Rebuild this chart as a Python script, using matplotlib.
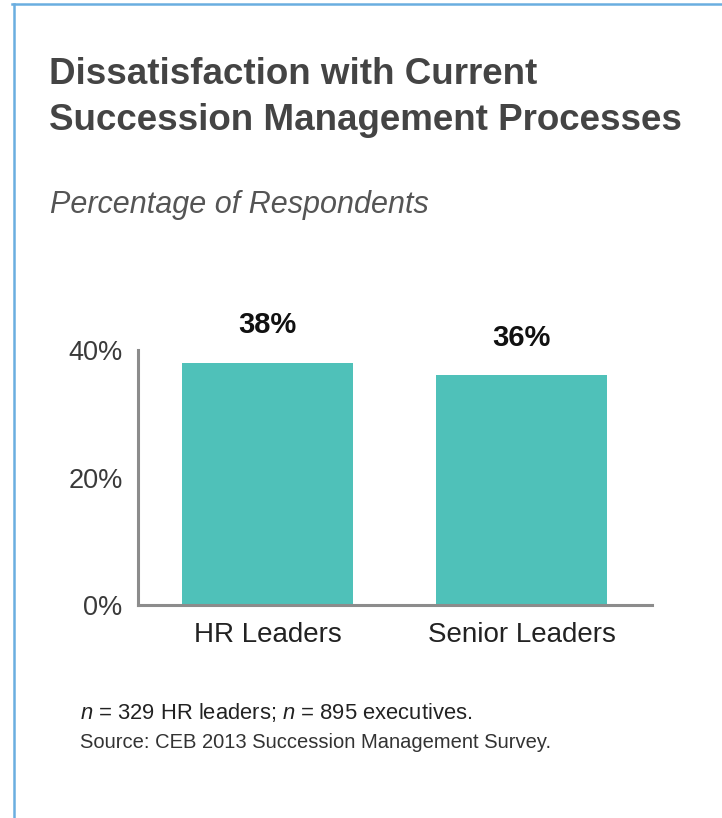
import matplotlib
matplotlib.use("Agg")
import matplotlib.pyplot as plt
from matplotlib.lines import Line2D

plt.rcParams["font.family"] = ["Liberation Sans", "DejaVu Sans"]
plt.rcParams["mathtext.fontset"] = "custom"
plt.rcParams["mathtext.rm"] = "Liberation Sans"
plt.rcParams["mathtext.it"] = "Liberation Sans:italic"

groups = ["HR Leaders", "Senior Leaders"]
dissatisfied = [38, 36]
y_ticks = [0, 20, 40]
y_tick_labels = ["0%", "20%", "40%"]

TEAL = "#4fc1b9"
TEXT = "#3a3a3a"
AXIS = "#8c8c8c"
FRAME = "#6aaee0"

W, H = 722, 818
fig = plt.figure(figsize=(W / 100, H / 100), dpi=100)


def px(x, y):
    # pixel position from the top-left corner -> figure fraction
    return x / W, 1 - y / H


# thin blue frame along the top and left edge
fig.add_artist(Line2D([12 / W, 1], [1 - 4 / H] * 2, color=FRAME, lw=1.8))
fig.add_artist(Line2D([14 / W] * 2, [0, 1 - 4 / H], color=FRAME, lw=1.8))

fig.text(*px(49, 75), "Dissatisfaction with Current", fontsize=26.5,
         fontweight="bold", color="#444444", va="center")
fig.text(*px(49, 120), "Succession Management Processes", fontsize=26.5,
         fontweight="bold", color="#444444", va="center")
fig.text(*px(50, 205), "Percentage of Respondents", fontsize=22,
         style="italic", color="#555555", va="center")

ax = fig.add_axes([138 / W, 1 - 605 / H, (652 - 138) / W, (605 - 350) / H])
x = range(len(groups))
bars = ax.bar(x, dissatisfied, width=0.673, color=TEAL)
ax.set_xlim(-0.51, 1.514)
ax.set_ylim(0, 40)

for b, v in zip(bars, dissatisfied):
    ax.annotate(f"{v}%", (b.get_x() + b.get_width() / 2, v),
                xytext=(0, 27), textcoords="offset points",
                ha="center", va="center", fontsize=21, fontweight="bold",
                color="#111111")

ax.set_yticks(y_ticks)
ax.set_yticklabels(y_tick_labels, fontsize=19.5, color=TEXT)
ax.set_xticks(list(x))
ax.set_xticklabels(groups, fontsize=20, color="#222222")
ax.tick_params(axis="both", length=0)
ax.tick_params(axis="y", pad=11)
ax.tick_params(axis="x", pad=12)

for side in ["top", "right"]:
    ax.spines[side].set_visible(False)
for side in ["left", "bottom"]:
    ax.spines[side].set_color(AXIS)
    ax.spines[side].set_linewidth(2.2)

fig.text(*px(80, 713), r"$\it{n}$ = 329 HR leaders; $\it{n}$ = 895 executives.",
         fontsize=15.8, color="#222222", va="center")
fig.text(*px(80, 743), "Source: CEB 2013 Succession Management Survey.",
         fontsize=14.5, color="#333333", va="center")

fig.savefig("out.png", dpi=100)
